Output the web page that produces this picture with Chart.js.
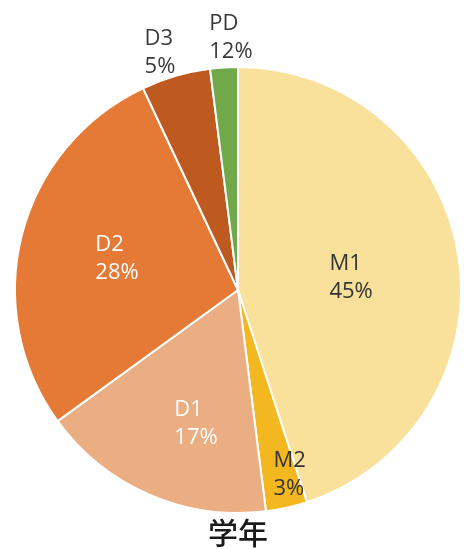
<!DOCTYPE html>
<html>
<head>
<meta charset="utf-8">
<script src="https://cdn.jsdelivr.net/npm/chart.js@4"></script>
<style>
html,body{margin:0;padding:0;background:#fff;}
#wrap{width:464px;height:549px;}
</style>
</head>
<body>
<div id="wrap"><canvas id="c" width="464" height="549"></canvas></div>
<script>
const categories = ["M1", "M2", "D1", "D2", "D3", "PD"];
const values = [45, 3, 17, 28, 5, 2];
const percentLabels = ["45%", "3%", "17%", "28%", "5%", "12%"];
const titleText = "学年";

const colors = ["#F9E19B", "#F3B71F", "#EBAD82", "#E47A35", "#BE5A1F", "#70A84A"];
const labelColors = ["#333333", "#333333", "#ffffff", "#ffffff", "#3a3a3a", "#3a3a3a"];
const labelRadius = [0.51, 0.86, 0.63, 0.56, 1.12, 1.13];
const labelAngleShift = [3, -3, -6, 0, -2, 2];

const labelPlugin = {
  id: 'sliceLabels',
  afterDatasetsDraw(chart) {
    const ctx = chart.ctx;
    const meta = chart.getDatasetMeta(0);
    ctx.save();
    ctx.font = '22px "Open Sans", "Noto Sans", sans-serif';
    ctx.textBaseline = 'middle';
    ctx.textAlign = 'left';
    meta.data.forEach((arc, i) => {
      const p = arc.getProps(['x','y','startAngle','endAngle','outerRadius'], true);
      const mid = (p.startAngle + p.endAngle) / 2 + labelAngleShift[i] * Math.PI / 180;
      const r = p.outerRadius * labelRadius[i];
      const cx = p.x + Math.cos(mid) * r;
      const cy = p.y + Math.sin(mid) * r;
      const l1 = categories[i], l2 = percentLabels[i];
      const w = Math.max(ctx.measureText(l1).width, ctx.measureText(l2).width);
      const left = cx - w / 2;
      ctx.fillStyle = labelColors[i];
      ctx.fillText(l1, left, cy - 14);
      ctx.fillText(l2, left, cy + 14);
    });
    ctx.restore();
  }
};

new Chart(document.getElementById('c'), {
  type: 'pie',
  data: {
    labels: categories,
    datasets: [{
      data: values,
      backgroundColor: colors,
      borderColor: '#ffffff',
      borderWidth: 2
    }]
  },
  options: {
    responsive: false,
    animation: false,
    layout: { padding: { top: 64, left: 14, right: 2, bottom: 0 } },
    plugins: {
      legend: { display: false },
      tooltip: { enabled: false },
      title: {
        display: true,
        text: titleText,
        position: 'bottom',
        color: '#1a1a1a',
        font: { family: '"Noto Sans CJK JP", sans-serif', size: 30, weight: '500', lineHeight: 1.1 },
        padding: { top: 0, bottom: 0 }
      }
    }
  },
  plugins: [labelPlugin]
});
</script>
</body>
</html>
